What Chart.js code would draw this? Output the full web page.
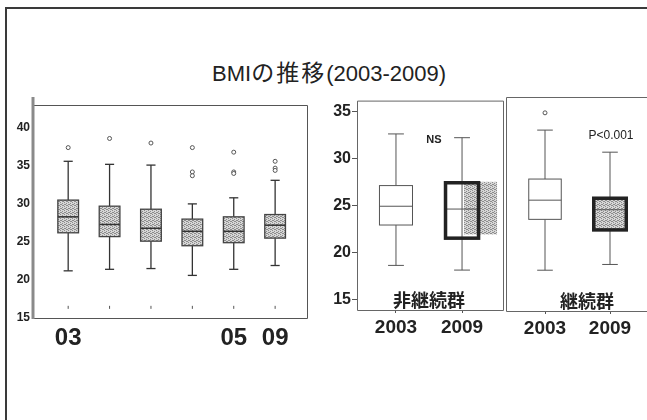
<!DOCTYPE html>
<html><head><meta charset="utf-8">
<script src="https://cdn.jsdelivr.net/npm/chart.js@4.4.1/dist/chart.umd.min.js"></script>
<style>
html,body{margin:0;padding:0;background:#fff;overflow:hidden;width:647px;height:420px}
.frame{position:absolute;left:5px;top:7px;width:700px;height:500px;border-left:2px solid #3a3a3a;border-top:2px solid #3a3a3a}
canvas{position:absolute}
.t{position:absolute;white-space:nowrap;color:#222;line-height:1}
#title{left:0;width:658px;top:60px;text-align:center;font-family:"Liberation Sans",Arial,sans-serif;font-size:22px;color:#222}
#title .j{font-family:"Noto Sans CJK JP",sans-serif;font-size:23px;letter-spacing:2px}
.jp{font-family:"Noto Sans CJK JP",sans-serif;font-size:18px;font-weight:bold;transform:translate(-50%,-50%)}
.sm{font-family:"Liberation Sans",Arial,sans-serif;font-size:12px;transform:translate(-50%,-50%)}
</style></head><body>
<div class="frame"></div>
<div class="t" id="title">BMI<span class="j">の推移</span>(2003-2009)</div>
<canvas id="c1" width="320" height="270" style="left:0;top:90px;width:320px;height:270px"></canvas>
<canvas id="c2" width="205" height="260" style="left:300px;top:90px;width:205px;height:260px"></canvas>
<canvas id="c3" width="160" height="260" style="left:505px;top:90px;width:160px;height:260px"></canvas>
<div class="t jp" style="left:429px;top:299px">非継続群</div>
<div class="t jp" style="left:587px;top:300px">継続群</div>
<div class="t sm" style="left:434px;top:139px;font-weight:bold;font-size:11px">NS</div>
<div class="t sm" style="left:611px;top:135px">P&lt;0.001</div>
<script>
// ---- data ----
const leftCats = ['03','','','','05','09'];
const leftLow  = [21.2,21.4,21.5,20.6,21.4,21.9];
const leftQ1   = [26.2,25.7,25.1,24.5,24.9,25.5];
const leftMed  = [28.3,27.3,26.8,26.4,26.4,27.2];
const leftQ3   = [30.5,29.7,29.3,28.0,28.3,28.6];
const leftHigh = [35.6,35.2,35.1,30.0,30.8,33.1];
const leftOut  = [[37.4],[38.6],[38.0],[37.4,34.2,33.7],[36.8,34.2,34.0],[35.6,34.7,34.4]];
const leftMark = [16.4,16.4,16.4,16.4,16.4,16.4];
const leftTicks = [15,20,25,30,35,40];

const groupCats = ['2003','2009'];
const midLow  = [18.6,18.1];
const midQ1   = [22.9,21.5];
const midMed  = [24.9,24.6];
const midQ3   = [27.1,27.4];
const midHigh = [32.6,32.2];
const midShadow = [null,[21.9,27.5]];

const rightLow  = [18.1,18.7];
const rightQ1   = [23.4,22.3];
const rightMed  = [25.4,24.4];
const rightQ3   = [27.6,25.6];
const rightHigh = [32.7,30.4];
const rightOut  = [[34.5],[]];
const groupTicks = [15,20,25,30,35];

// ---- helpers ----
const stip = document.createElement('canvas');
stip.width = stip.height = 4;
(function(){const g=stip.getContext('2d');g.fillStyle='#d6d6d6';g.fillRect(0,0,4,4);
g.fillStyle='#8c8c8c';[[0,0],[2,1],[1,2],[3,3],[2,3],[0,2]].forEach(p=>g.fillRect(p[0],p[1],1,1));})();

function outPoints(out){const a=[];out.forEach((vs,i)=>vs.forEach(v=>a.push({x:i,y:v})));return a;}

const boxPlugin = {
  id:'boxes',
  beforeDatasetsDraw(chart){
    const o = chart.options.plugins.boxes; if(!o) return;
    const ctx = chart.ctx, x = chart.scales.x, y = chart.scales.y;
    const pat = ctx.createPattern(stip,'repeat');
    const ca = chart.chartArea;
    ctx.save();
    ctx.strokeStyle = o.frameColor; ctx.lineWidth = 1;
    ctx.beginPath();
    if (o.leftAxis){
      ctx.moveTo(ca.left, ca.top+0.5); ctx.lineTo(ca.right+0.5, ca.top+0.5);
      ctx.lineTo(ca.right+0.5, ca.bottom+0.5); ctx.lineTo(ca.left, ca.bottom+0.5);
    } else if (o.openRight){
      ctx.moveTo(chart.width, ca.top+0.5); ctx.lineTo(ca.left+0.5, ca.top+0.5);
      ctx.lineTo(ca.left+0.5, ca.bottom+0.5); ctx.lineTo(chart.width, ca.bottom+0.5);
    } else {
      ctx.rect(ca.left+0.5, ca.top+0.5, ca.right-ca.left, ca.bottom-ca.top);
    }
    ctx.stroke();
    if (o.leftAxis){
      ctx.strokeStyle='#8a8a8a'; ctx.lineWidth=3;
      ctx.beginPath(); ctx.moveTo(ca.left, ca.top-8); ctx.lineTo(ca.left, ca.bottom+1); ctx.stroke();
    }
    ctx.beginPath(); ctx.rect(ca.left, ca.top, ca.right-ca.left, ca.bottom-ca.top); ctx.clip();
    const L=(a,b,c,d)=>{ctx.beginPath();ctx.moveTo(a,b);ctx.lineTo(c,d);ctx.stroke();};
    o.low.forEach((lo,i)=>{
      const s = o.styles[i];
      const xc = x.getPixelForValue(i);
      const hw = x.getPixelForValue(i+o.width/2)-xc;
      const cw = x.getPixelForValue(i+o.cap/2)-xc;
      const pLo=y.getPixelForValue(lo), pQ1=y.getPixelForValue(o.q1[i]), pMed=y.getPixelForValue(o.med[i]),
            pQ3=y.getPixelForValue(o.q3[i]), pHi=y.getPixelForValue(o.high[i]);
      ctx.strokeStyle=o.lineColor; ctx.lineWidth=o.lw;
      L(xc,pHi,xc,pQ3); L(xc,pQ1,xc,pLo);
      L(xc-cw,pHi,xc+cw,pHi); L(xc-cw,pLo,xc+cw,pLo);
      ctx.fillStyle = s.fill==='pattern'?pat:s.fill;
      ctx.fillRect(xc-hw,pQ3,2*hw,pQ1-pQ3);
      if (o.shadow && o.shadow[i]){
        const sh=o.shadow[i];
        const sx0=x.getPixelForValue(i+0.03), sx1=x.getPixelForValue(i+0.53);
        const sy0=y.getPixelForValue(sh[1]), sy1=y.getPixelForValue(sh[0]);
        ctx.fillStyle=pat; ctx.fillRect(sx0,sy0,sx1-sx0,sy1-sy0);
        ctx.strokeStyle=o.lineColor; ctx.lineWidth=o.lw; L(xc,pQ3,xc,pQ1);
      }
      ctx.strokeStyle=o.lineColor; ctx.lineWidth=o.medLw;
      L(xc-hw,pMed,xc+hw,pMed);
      ctx.strokeStyle=s.border; ctx.lineWidth=s.bw;
      ctx.strokeRect(xc-hw,pQ3,2*hw,pQ1-pQ3);
      if (o.marks){
        const m0=y.getPixelForValue(o.marks[i]-0.2), m1=y.getPixelForValue(o.marks[i]+0.2);
        ctx.strokeStyle='#555'; ctx.lineWidth=1; L(xc,m0,xc,m1);
      }
    });
    ctx.restore();
  }
};

function fixed(w){return function(s){ if(w.width!==undefined) s.width=w.width; if(w.height!==undefined) s.height=w.height; };}
function setTicks(arr){return function(s){ s.ticks = arr.map(v=>({value:v})); };}

const outStyle = {type:'scatter', pointRadius:2, pointBorderWidth:1, borderColor:'#555', backgroundColor:'#fff', pointHoverRadius:2};
const groupFont = {family:'"Liberation Sans", Arial',size:19,weight:'bold'};

// ---- left chart ----
new Chart(document.getElementById('c1'), {
  type:'scatter',
  data:{datasets:[Object.assign({data:outPoints(leftOut)},outStyle)]},
  options:{
    responsive:false, animation:false, events:[],
    layout:{autoPadding:false,padding:{left:0,top:15,right:13,bottom:0}},
    plugins:{legend:{display:false},tooltip:{enabled:false},
      boxes:{low:leftLow,q1:leftQ1,med:leftMed,q3:leftQ3,high:leftHigh,marks:leftMark,
        width:0.5,cap:0.22,lw:1.3,medLw:1.5,lineColor:'#333',frameColor:'#555',leftAxis:true,
        styles:leftCats.map(()=>({fill:'pattern',border:'#444',bw:1.3}))}},
    scales:{
      x:{type:'linear',min:-0.85,max:5.77,afterFit:fixed({height:42}),afterBuildTicks:setTicks(leftCats.map((c,i)=>i)),
        grid:{display:false,drawTicks:false},border:{display:false},
        ticks:{padding:6,color:'#222',font:{family:'"Liberation Sans", Arial',size:24,weight:'bold'},callback:v=>leftCats[v]}},
      y:{type:'linear',min:15,max:43,afterFit:fixed({width:33}),afterBuildTicks:setTicks(leftTicks),
        grid:{display:false,drawTicks:false},border:{display:false},
        ticks:{padding:3,color:'#222',font:{family:'"Liberation Sans", Arial',size:12,weight:'bold'}}}
    }
  },
  plugins:[boxPlugin]
});

// ---- middle chart ----
new Chart(document.getElementById('c2'), {
  type:'scatter',
  data:{datasets:[Object.assign({data:[]},outStyle)]},
  options:{
    responsive:false, animation:false, events:[],
    layout:{autoPadding:false,padding:{left:0,top:7,right:2,bottom:0}},
    plugins:{legend:{display:false},tooltip:{enabled:false},
      boxes:{low:midLow,q1:midQ1,med:midMed,q3:midQ3,high:midHigh,shadow:midShadow,
        width:0.5,cap:0.24,lw:1,medLw:1,lineColor:'#555',frameColor:'#666',
        styles:[{fill:'#fff',border:'#555',bw:1},{fill:'#fff',border:'#222',bw:3.5}]}},
    scales:{
      x:{type:'linear',min:-0.59,max:1.62,afterFit:fixed({height:40}),afterBuildTicks:setTicks([0,1]),
        grid:{display:true,drawOnChartArea:false,drawTicks:true,tickLength:3,color:'#555'},border:{display:false},
        ticks:{padding:3,color:'#222',font:groupFont,callback:v=>groupCats[v]}},
      y:{type:'linear',min:13.85,max:36.15,afterFit:fixed({width:57}),afterBuildTicks:setTicks(groupTicks),
        grid:{display:true,drawOnChartArea:false,drawTicks:true,tickLength:5,color:'#555'},border:{display:false},
        ticks:{padding:1,color:'#222',font:{family:'"Liberation Sans", Arial',size:16,weight:'bold'}}}
    }
  },
  plugins:[boxPlugin]
});

// ---- right chart ----
new Chart(document.getElementById('c3'), {
  type:'scatter',
  data:{datasets:[Object.assign({data:outPoints(rightOut)},outStyle)]},
  options:{
    responsive:false, animation:false, events:[],
    layout:{autoPadding:false,padding:{left:1,top:7,right:0,bottom:0}},
    plugins:{legend:{display:false},tooltip:{enabled:false},
      boxes:{low:rightLow,q1:rightQ1,med:rightMed,q3:rightQ3,high:rightHigh,openRight:true,
        width:0.5,cap:0.24,lw:1,medLw:1,lineColor:'#555',frameColor:'#666',
        styles:[{fill:'#fff',border:'#555',bw:1},{fill:'pattern',border:'#222',bw:3.5}]}},
    scales:{
      x:{type:'linear',min:-0.6,max:1.846,afterFit:fixed({height:39}),afterBuildTicks:setTicks([0,1]),
        grid:{display:true,drawOnChartArea:false,drawTicks:true,tickLength:3,color:'#555'},border:{display:false},
        ticks:{padding:3,color:'#222',font:groupFont,callback:v=>groupCats[v]}},
      y:{type:'linear',display:false,min:13.85,max:36.15}
    }
  },
  plugins:[boxPlugin]
});
</script>
</body></html>
